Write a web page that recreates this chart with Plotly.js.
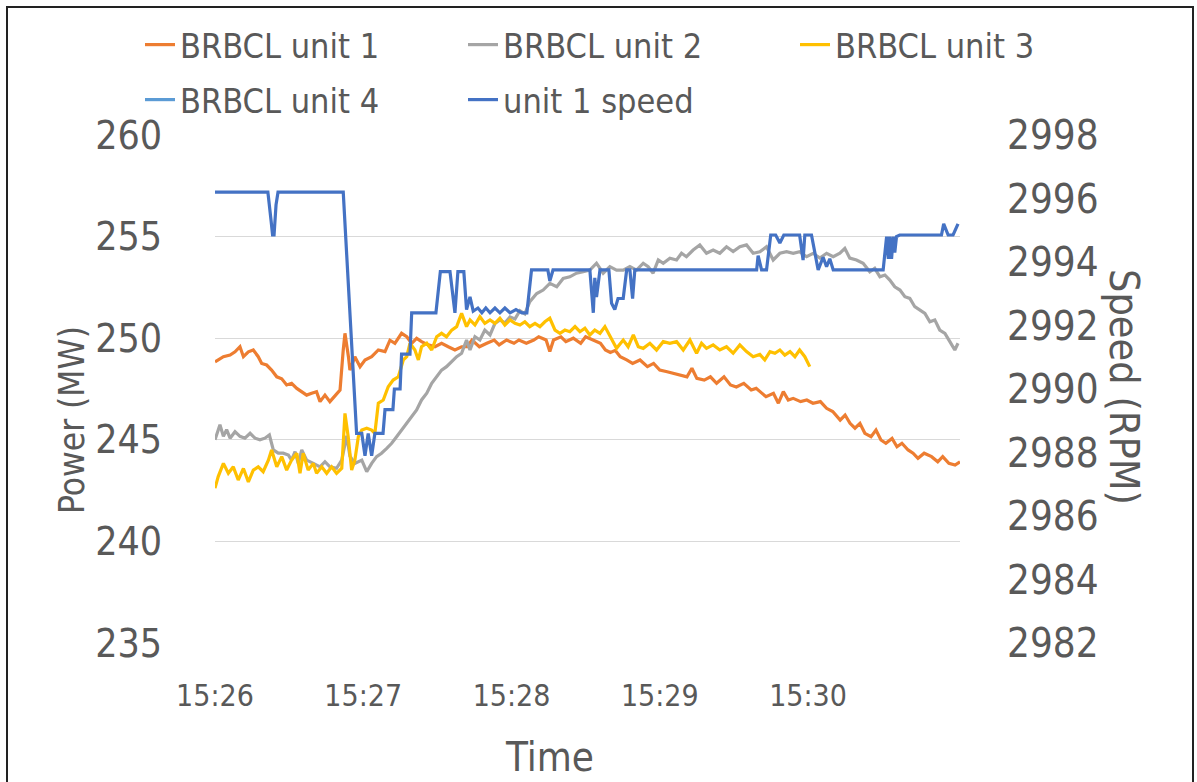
<!DOCTYPE html>
<html>
<head>
<meta charset="utf-8">
<script src="https://cdn.plot.ly/plotly-3.0.1.min.js"></script>
<style>
  html, body { margin: 0; padding: 0; background: #fff; }
  #wrap { position: relative; width: 1197px; height: 782px; overflow: hidden; }
  #chart { position: absolute; left: 0; top: 0; width: 1197px; height: 782px; }
  #frame { position: absolute; left: 6px; top: 6px; width: 1184px; height: 800px;
           border: 2px solid #222; pointer-events: none; }
</style>
</head>
<body>
<div id="wrap"><div id="chart"></div><div id="frame"></div></div>
<script>
// ---------- DATA (seconds after 15:26:00) ----------
const tickSeconds = [0, 60, 120, 180, 240];
const tickLabels = ["15:26", "15:27", "15:28", "15:29", "15:30"];

const unit1Time = [0,3.4,6.1,8.1,10.1,11.5,13.5,15.5,17.5,18.9,20.9,22.9,25,27,29,31,33.1,35.1,37.1,39.1,41.1,42.5,44.5,46.5,48.6,50.6,51.9,52.6,54,54.6,56.6,58.7,60.7,63.4,66.1,68.8,70.8,72.8,75.5,77.6,79.6,81.6,83.6,86.3,89,91.7,94.4,97.1,99.8,102,104,107,110,113,115,118,121,123,126,129,131,134,135.5,137,140,142,145,148,150,153,156,158,160,162,164,166.6,169,172,175,177.5,180,183,186,188.6,191,193,195,198,200.5,203,206,208.6,211,214,217,219,221,223,226,228,230,232,234,237,239.5,242,245,247.5,250,253,255,257,259,261,263,265.5,267.5,269.5,271.5,274,276,278,280.5,282.5,284.5,287,290,292.5,294.5,297,299.5,301.5];
const unit1Power = [248.84,249.09,249.17,249.33,249.58,249.09,249.33,249.42,249.09,248.76,248.68,248.43,248.1,248.0,247.7,247.78,247.53,247.37,247.2,247.29,247.37,246.88,247.2,246.88,247.2,247.45,249.42,250.24,249.09,248.43,249.09,248.6,248.93,249.09,249.42,249.34,249.9,249.75,250.24,250.07,249.75,249.99,249.83,249.67,249.58,249.75,249.58,249.42,249.58,249.58,249.91,249.58,249.75,249.91,249.67,249.91,249.75,249.91,249.75,249.91,250.07,249.91,249.34,249.91,250.07,249.83,250.0,249.75,250.07,249.91,249.75,249.42,249.3,249.4,249.09,248.93,248.76,248.93,248.6,248.76,248.43,248.35,248.27,248.19,248.1,248.52,248.02,247.94,248.1,247.78,248.1,247.7,247.6,247.78,247.45,247.53,247.3,247.12,247.29,246.8,247.37,246.96,247.04,246.88,246.96,246.8,246.88,246.55,246.39,245.97,246.22,245.81,245.57,245.81,245.32,245.15,245.48,244.99,244.83,245.07,244.66,244.83,244.5,244.34,244.09,244.34,244.17,243.92,244.17,243.84,243.76,243.92];

const unit2Time = [0,2,3.4,4.7,6.1,8.1,10.1,12.1,14.2,16.2,18.2,20.2,22,23.6,25.6,27.6,29.7,31,32.4,33.7,35.1,37.1,39.8,42.5,44.5,46.5,49.2,51.3,53.3,54.6,56.6,59.4,61.4,63.4,65.4,67.4,69.5,71.5,73.5,75.5,77.6,79.6,81.6,83.6,85.7,87.7,89.7,91.7,93.7,95.8,97.8,99.8,101.8,103.2,105.2,107.2,109.2,111.3,113.3,115.3,117.3,119.4,121.4,123.4,125.4,127.4,130.2,132.8,135.5,138.3,140.9,143.6,146.3,149,151.7,154.4,157.1,159.8,162.5,165.2,167.9,170.6,173.3,175.3,177.3,179.4,181.4,184.1,186.8,188.8,190.8,193.5,196.2,198.9,201.6,204.3,207,209.7,212.4,215.1,217.8,220.5,223.2,225.9,228.6,231.3,234,236.6,239.4,242.1,244.8,247.5,250.2,252.9,254.9,256.9,259.6,262.3,265,267,269.1,271.1,273.1,275.1,277.2,279.2,281.2,283.2,285.2,287.3,289.3,291.3,293.3,295.4,297.4,299.4,300.7];
const unit2Power = [245.0,245.74,245.17,245.5,245.08,245.4,245.17,245.08,245.32,245.08,245.0,245.08,245.24,244.5,244.34,244.34,244.25,244.0,244.42,243.84,244.5,244.0,243.84,243.67,243.92,243.67,243.6,244.0,245.2,244.2,243.84,244.0,243.43,243.84,244.17,244.34,244.58,244.83,245.15,245.48,245.81,246.14,246.47,246.96,247.29,247.78,248.1,248.43,248.6,248.84,249.09,249.26,249.91,249.42,250.07,249.91,250.4,250.16,250.73,250.9,250.75,251.05,250.95,251.35,251.2,251.8,252.2,252.37,252.7,252.53,252.94,253.02,253.2,253.27,253.35,253.69,253.2,253.52,253.35,253.35,253.52,253.35,253.69,253.52,253.2,253.85,253.69,253.94,253.85,254.18,254.01,254.34,254.59,254.18,254.34,254.18,254.5,254.26,254.5,254.59,254.18,254.25,254.5,253.85,254.18,254.26,254.18,254.26,254.01,254.18,253.94,254.18,254.01,254.18,254.42,253.94,253.85,253.69,253.27,253.44,253.02,253.11,252.86,252.53,252.37,252.04,251.96,251.55,251.39,251.22,250.81,250.9,250.4,250.24,249.83,249.42,249.75];

const unit3Time = [0,1.3,3.4,5.4,7.4,9.4,11.5,13.5,15.5,17.5,19.5,21.6,22.9,25,27,29,31,33.1,34.4,35.7,37.7,39.8,41.1,43.2,45.2,47.2,49.2,51.3,52.6,53.9,55.3,56.6,58,59.4,61.4,63.4,64.7,66.1,68.1,70.1,72.1,74.2,76.2,77.6,78.9,80.9,82.3,83.6,85.7,87.7,89.7,91.7,93.7,95.8,97.8,99.8,101.8,103.2,105.2,107.2,109.2,111.3,113.3,115.3,117.3,119.4,121.4,123.4,125.4,127.4,129.5,131.5,133.5,135.5,137.6,139.6,141.6,143.6,145.7,147.7,149.7,151.7,153.7,155.8,157.8,159.8,162.5,165.2,167.2,169.3,171.3,173.3,176,178.7,181.4,184.1,186.8,189.5,192.2,194.9,196.9,198.9,201.6,204.3,207,209.7,212.4,215.1,217.8,220.5,222.5,224.6,226.6,228.6,230.6,232.7,234.7,236.6,238.7,240.7];
const unit3Power = [242.62,243.19,243.84,243.35,243.67,243.02,243.59,242.93,243.51,243.67,243.43,244.0,244.5,243.67,244.17,243.51,244.0,244.34,243.35,244.34,243.51,243.84,243.35,243.67,243.35,243.67,243.35,243.6,246.3,245.15,243.51,244.0,245.15,245.48,245.57,245.48,245.32,246.8,246.96,247.61,247.94,248.1,248.93,249.09,249.75,249.42,248.93,249.58,249.75,249.42,250.07,250.24,250.07,250.4,250.57,251.22,250.57,250.9,250.65,251.06,250.73,250.9,250.73,250.98,250.65,250.9,250.73,250.65,250.81,250.57,250.73,250.57,250.81,250.98,250.4,250.24,250.4,250.32,250.57,250.32,250.49,250.16,250.4,250.24,250.57,250.1,249.5,249.91,249.58,250.16,249.58,249.5,249.75,249.42,249.83,249.75,249.83,249.42,249.91,249.26,249.75,249.5,249.67,249.42,249.58,249.26,249.67,249.34,249.09,249.2,248.93,249.34,249.26,249.42,249.17,249.34,249.09,249.42,249.09,248.6];

// BRBCL unit 4 appears in the legend only; no line of it is visible in the picture.
const unit4Time = [null];
const unit4Power = [null];

const speedTime = [0,21.4,22.7,23.3,23.9,24.7,25.5,51.9,57.3,59.4,60.7,62.0,63.4,64.7,68.0,68.8,72.0,72.6,74.9,75.5,78.9,79.6,89.4,91.2,95.1,97.1,98.3,100.7,101.8,103.2,104.5,106.4,108.0,109.6,111.3,113.3,115.3,117.3,119.4,121.8,124.2,126.2,128.1,134.7,135.5,136.8,151.7,153.1,153.7,154.4,155.8,159.4,160.5,161.8,163.1,165.2,166.6,167.9,169.0,169.9,219.2,219.8,221.2,223.2,224.9,226.9,228.6,230.2,236.6,238.0,238.7,241.4,244.1,246.1,247.5,248.8,250.2,270.4,271.8,272.5,273.1,273.8,274.5,275.1,275.8,277.1,294.0,294.9,296.7,298.7,300.7];
const speedRPM = [2996.2,2996.2,2995.3,2994.85,2994.85,2995.8,2996.2,2996.2,2988.6,2988.6,2987.9,2988.6,2987.9,2988.6,2988.6,2989.35,2989.35,2990.0,2990.0,2991.1,2991.1,2992.4,2992.4,2993.7,2993.7,2992.4,2993.7,2993.7,2992.5,2992.9,2992.45,2992.55,2992.4,2992.55,2992.4,2992.55,2992.4,2992.55,2992.4,2992.5,2992.4,2992.4,2993.75,2993.75,2993.4,2993.75,2993.75,2992.4,2993.5,2992.9,2993.75,2993.75,2992.7,2992.5,2992.85,2992.85,2993.75,2993.75,2992.85,2993.75,2993.75,2994.2,2993.75,2993.75,2994.85,2994.85,2994.6,2994.85,2994.85,2994.06,2994.85,2994.85,2993.75,2994.15,2993.85,2994.1,2993.75,2993.75,2994.8,2994.1,2994.8,2994.1,2994.8,2994.3,2994.8,2994.85,2994.85,2995.2,2994.85,2994.85,2995.2];

const seriesNames = ["BRBCL unit 1", "BRBCL unit 2", "BRBCL unit 3", "BRBCL unit 4", "unit 1 speed"];
const seriesColors = ["#ED7D31", "#A5A5A5", "#FFC000", "#5B9BD5", "#4472C4"];

// ---------- LAYOUT HELPERS ----------
const W = 1197, H = 782;
const M = { l: 215, r: 237, t: 135, b: 139 };
const pw = W - M.l - M.r, ph = H - M.t - M.b;
const px2x = px => (px - M.l) / pw;
const px2y = py => (H - M.b - py) / ph;

const FONT = '"DejaVu Sans Condensed", "Liberation Sans Narrow", "Liberation Sans", sans-serif';
const TXT = '#595959';

// legend entry placement (one legend box per entry, laid out as in the picture: 3 + 2)
const legendIds = ['legend', 'legend2', 'legend3', 'legend4', 'legend5'];
const legendPos = [[140, 16], [463, 16], [795, 16], [140, 71], [463, 71]];

const lineW = 3.2;
const traces = [
  { x: unit1Time, y: unit1Power },
  { x: unit2Time, y: unit2Power },
  { x: unit3Time, y: unit3Power },
  { x: unit4Time, y: unit4Power },
  { x: speedTime, y: speedRPM, yaxis: 'y2' }
].map((t, i) => Object.assign({
  type: 'scatter', mode: 'lines', hoverinfo: 'skip',
  name: seriesNames[i], legend: legendIds[i],
  line: { color: seriesColors[i], width: lineW }
}, t));

const layout = {
  width: W, height: H,
  margin: M,
  paper_bgcolor: '#fff', plot_bgcolor: '#fff',
  font: { family: FONT, color: TXT },
  showlegend: true,
  xaxis: {
    range: [0, 301.5], tickmode: 'array', tickvals: tickSeconds, ticktext: tickLabels,
    showgrid: false, zeroline: false, showline: false,
    ticks: 'outside', ticklen: 26, tickcolor: 'rgba(0,0,0,0)',
    tickfont: { family: FONT, size: 30, color: TXT }
  },
  yaxis: {
    range: [235, 260], dtick: 5, tick0: 235,
    showgrid: true, gridcolor: '#D9D9D9', gridwidth: 1.2,
    zeroline: false, showline: false,
    ticks: 'outside', ticklen: 44, tickcolor: 'rgba(0,0,0,0)',
    tickfont: { family: FONT, size: 39, color: TXT }
  },
  yaxis2: {
    range: [2982, 2998], dtick: 2, tick0: 2982, overlaying: 'y', side: 'right',
    showgrid: false, zeroline: false, showline: false,
    ticks: 'outside', ticklen: 38, tickcolor: 'rgba(0,0,0,0)',
    tickfont: { family: FONT, size: 40, color: TXT }
  },
  annotations: [
    { text: 'Power (MW)', xref: 'paper', yref: 'paper', x: px2x(72), y: px2y(420),
      textangle: -90, showarrow: false, font: { family: FONT, size: 35, color: TXT },
      xanchor: 'center', yanchor: 'middle' },
    { text: 'Speed (RPM)', xref: 'paper', yref: 'paper', x: px2x(1124), y: px2y(387),
      textangle: 90, showarrow: false, font: { family: FONT, size: 41, color: TXT },
      xanchor: 'center', yanchor: 'middle' },
    { text: 'Time', xref: 'paper', yref: 'paper', x: px2x(549), y: px2y(757),
      showarrow: false, font: { family: FONT, size: 40, color: TXT },
      xanchor: 'center', yanchor: 'middle' }
  ]
};

legendIds.forEach((id, i) => {
  layout[id] = {
    orientation: 'h', xref: 'container', yref: 'container',
    x: legendPos[i][0] / W, y: 1 - legendPos[i][1] / H,
    xanchor: 'left', yanchor: 'top',
    font: { family: FONT, size: 34, color: TXT },
    itemwidth: 30, bgcolor: 'rgba(0,0,0,0)'
  };
});

Plotly.newPlot('chart', traces, layout, { displayModeBar: false, staticPlot: true });
</script>
</body>
</html>
